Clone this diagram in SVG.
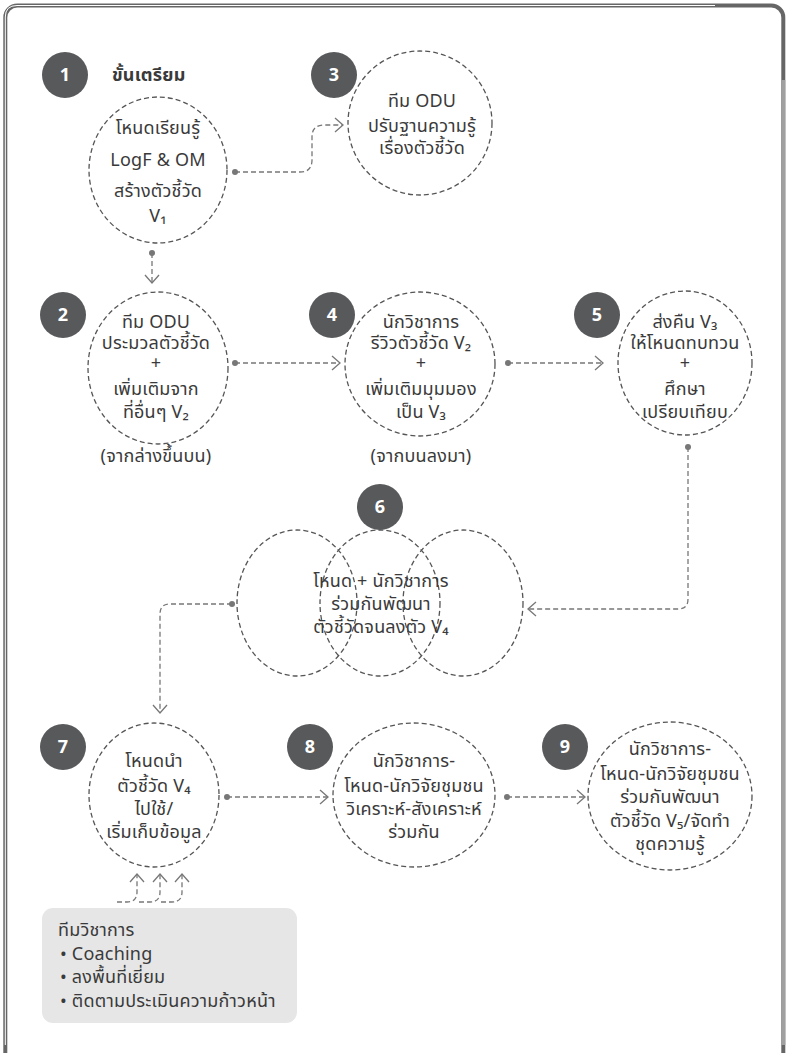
<svg xmlns="http://www.w3.org/2000/svg" width="788" height="1053" viewBox="0 0 788 1053">
<style>
.t{font-family:"Noto Sans Thai","Noto Sans","DejaVu Sans",sans-serif;font-size:18px;letter-spacing:0.2px;fill:#3a3a3a;text-anchor:middle}
.tl{font-family:"Noto Sans Thai","Noto Sans","DejaVu Sans",sans-serif;font-size:18px;letter-spacing:0.2px;fill:#3a3a3a}
.b{fill:#58595b}
.bn{font-family:"Noto Sans","Liberation Sans",sans-serif;font-size:18px;font-weight:bold;fill:#ffffff;text-anchor:middle}
.c{fill:#ffffff;stroke:#555;stroke-width:1.3;stroke-dasharray:5 3}
.v{fill:none;stroke:#555;stroke-width:1.3;stroke-dasharray:5 3}
.k{fill:none;stroke:#777;stroke-width:1.3;stroke-dasharray:5 3}
.d{fill:#777}
</style>
<defs>
<marker id="ah" markerUnits="userSpaceOnUse" markerWidth="12" markerHeight="18" refX="9" refY="8" orient="auto">
<path d="M1,1 L9,8 L1,15" fill="none" stroke="#777" stroke-width="1.3"/>
</marker>
</defs>
<rect width="788" height="1053" fill="#ffffff"/>
<g id="frame">
<rect x="5.3" y="5.5" width="778" height="1060" rx="12" fill="none" stroke="#666" stroke-width="4"/>
<path d="M5.3,1045 L5.3,17 Q5.3,5.5 17,5.5 L715,5.5" fill="none" stroke="#ffffff" stroke-width="1"/>
<line x1="783.3" y1="80" x2="783.3" y2="1045" stroke="#a0a0a0" stroke-width="4"/>
</g>
<g id="connectors">
<path class="k" d="M235,172 L300,172 Q312,172 312,160 L312,137 Q312,125 324,125 L343,125" marker-end="url(#ah)"/>
<circle class="d" cx="235" cy="172" r="3"/>
<path class="k" d="M152,253 L152,283" marker-end="url(#ah)"/>
<circle class="d" cx="152" cy="253" r="3"/>
<path class="k" d="M235,363 L340,363" marker-end="url(#ah)"/>
<circle class="d" cx="235" cy="363" r="3"/>
<path class="k" d="M508,363 L603,363" marker-end="url(#ah)"/>
<circle class="d" cx="508" cy="363" r="3"/>
<path class="k" d="M688,447 L688,599 Q688,609 678,609 L528,609" marker-end="url(#ah)"/>
<circle class="d" cx="688" cy="447" r="3"/>
<path class="k" d="M232,604 L170,604 Q160,604 160,614 L160,713" marker-end="url(#ah)"/>
<circle class="d" cx="232" cy="604" r="3"/>
<path class="k" d="M227,797 L328,797" marker-end="url(#ah)"/>
<circle class="d" cx="227" cy="797" r="3"/>
<path class="k" d="M507,797 L585,797" marker-end="url(#ah)"/>
<circle class="d" cx="507" cy="797" r="3"/>
<path class="k" d="M117,902 L127,902 Q137,902 137,892 L137,874" marker-end="url(#ah)"/>
<path class="k" d="M139,902 L150,902 Q160,902 160,892 L160,874" marker-end="url(#ah)"/>
<path class="k" d="M161,902 L172,902 Q182,902 182,892 L182,874" marker-end="url(#ah)"/>
</g>
<g id="title">
<text class="tl" x="112" y="81" font-weight="bold" font-size="19">ขั้นเตรียม</text>
</g>
<g id="node1">
<ellipse class="c" cx="158" cy="170" rx="69" ry="73"/>
<circle class="b" cx="65" cy="75" r="23"/>
<text class="bn" x="65" y="81">1</text>
<text class="t"><tspan x="158" y="134">โหนดเรียนรู้</tspan><tspan x="158" y="166">LogF &amp; OM</tspan><tspan x="158" y="197">สร้างตัวชี้วัด</tspan><tspan x="158" y="222">V₁</tspan></text>
</g>
<g id="node3">
<ellipse class="c" cx="420" cy="123" rx="72" ry="72"/>
<circle class="b" cx="334" cy="75" r="23"/>
<text class="bn" x="334" y="81">3</text>
<text class="t"><tspan x="422" y="107">ทีม ODU</tspan><tspan x="422" y="132">ปรับฐานความรู้</tspan><tspan x="422" y="154">เรื่องตัวชี้วัด</tspan></text>
</g>
<g id="node2">
<ellipse class="c" cx="158" cy="368" rx="70" ry="76"/>
<circle class="b" cx="63" cy="315" r="23"/>
<text class="bn" x="63" y="321">2</text>
<text class="t"><tspan x="156" y="328">ทีม ODU</tspan><tspan x="156" y="349">ประมวลตัวชี้วัด</tspan><tspan x="156" y="369">+</tspan><tspan x="156" y="395">เพิ่มเติมจาก</tspan><tspan x="156" y="418">ที่อื่นๆ V₂</tspan></text>
<text class="t" x="156" y="462">(จากล่างขึ้นบน)</text>
</g>
<g id="node4">
<ellipse class="c" cx="420" cy="364" rx="75" ry="72"/>
<circle class="b" cx="332" cy="315" r="23"/>
<text class="bn" x="332" y="321">4</text>
<text class="t"><tspan x="421" y="328">นักวิชาการ</tspan><tspan x="421" y="349">รีวิวตัวชี้วัด V₂</tspan><tspan x="421" y="369">+</tspan><tspan x="421" y="395">เพิ่มเติมมุมมอง</tspan><tspan x="421" y="418">เป็น V₃</tspan></text>
<text class="t" x="421" y="462">(จากบนลงมา)</text>
</g>
<g id="node5">
<ellipse class="c" cx="685" cy="363" rx="67" ry="72"/>
<circle class="b" cx="597" cy="315" r="23"/>
<text class="bn" x="597" y="321">5</text>
<text class="t"><tspan x="685" y="328">ส่งคืน V₃</tspan><tspan x="685" y="349">ให้โหนดทบทวน</tspan><tspan x="685" y="369">+</tspan><tspan x="685" y="395">ศึกษา</tspan><tspan x="685" y="418">เปรียบเทียบ</tspan></text>
</g>
<g id="node6">
<ellipse class="v" cx="297" cy="603" rx="60" ry="73"/>
<ellipse class="v" cx="380" cy="603" rx="60" ry="73"/>
<ellipse class="v" cx="463" cy="603" rx="60" ry="73"/>
<circle class="b" cx="380" cy="507" r="23"/>
<text class="bn" x="380" y="513">6</text>
<text class="t"><tspan x="381" y="587">โหนด + นักวิชาการ</tspan><tspan x="381" y="610">ร่วมกันพัฒนา</tspan><tspan x="381" y="633">ตัวชี้วัดจนลงตัว V₄</tspan></text>
</g>
<g id="node7">
<ellipse class="c" cx="154" cy="795" rx="65" ry="72"/>
<circle class="b" cx="63" cy="747" r="23"/>
<text class="bn" x="63" y="753">7</text>
<text class="t"><tspan x="154" y="767">โหนดนำ</tspan><tspan x="154" y="792">ตัวชี้วัด V₄</tspan><tspan x="154" y="815">ไปใช้/</tspan><tspan x="154" y="838">เริ่มเก็บข้อมูล</tspan></text>
</g>
<g id="node8">
<ellipse class="c" cx="414" cy="795" rx="81" ry="72"/>
<circle class="b" cx="310" cy="747" r="23"/>
<text class="bn" x="310" y="753">8</text>
<text class="t"><tspan x="414" y="767">นักวิชาการ-</tspan><tspan x="414" y="792">โหนด-นักวิจัยชุมชน</tspan><tspan x="414" y="815">วิเคราะห์-สังเคราะห์</tspan><tspan x="414" y="838">ร่วมกัน</tspan></text>
</g>
<g id="node9">
<ellipse class="c" cx="670" cy="796" rx="82" ry="74"/>
<circle class="b" cx="565" cy="747" r="23"/>
<text class="bn" x="565" y="753">9</text>
<text class="t"><tspan x="670" y="755">นักวิชาการ-</tspan><tspan x="670" y="780">โหนด-นักวิจัยชุมชน</tspan><tspan x="670" y="803">ร่วมกันพัฒนา</tspan><tspan x="670" y="827">ตัวชี้วัด V₅/จัดทำ</tspan><tspan x="670" y="850">ชุดความรู้</tspan></text>
</g>
<g id="support">
<rect x="42" y="908" width="255" height="115" rx="11" fill="#e6e6e7"/>
<text class="tl"><tspan x="58" y="936">ทีมวิชาการ</tspan><tspan x="60" y="960">• Coaching</tspan><tspan x="60" y="983">• ลงพื้นที่เยี่ยม</tspan><tspan x="60" y="1007">• ติดตามประเมินความก้าวหน้า</tspan></text>
</g>
</svg>
